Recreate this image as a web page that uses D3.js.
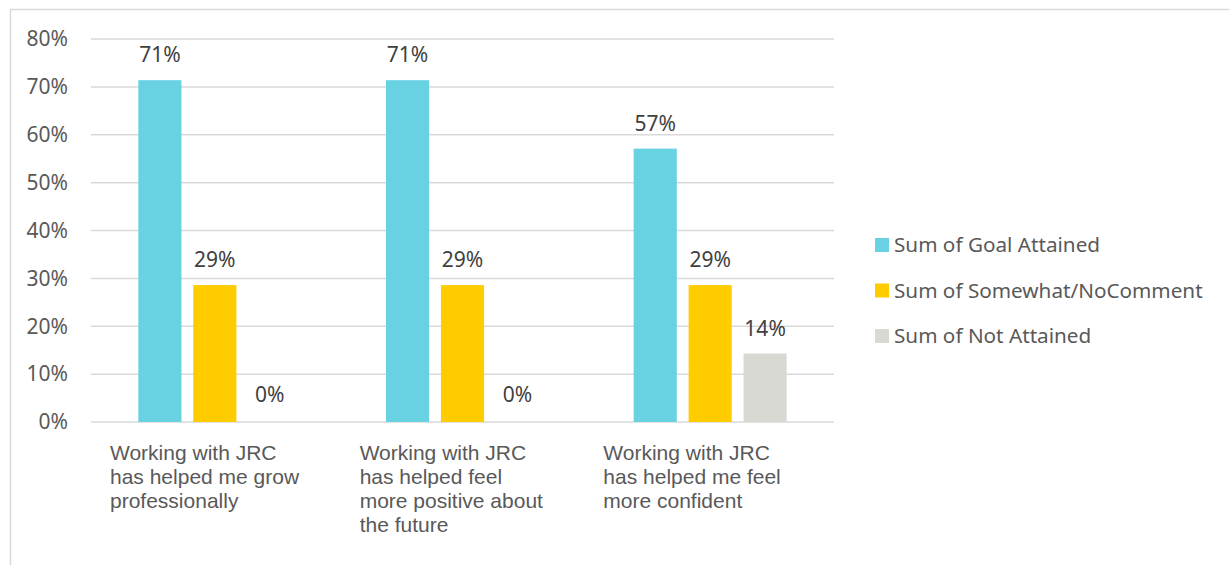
<!DOCTYPE html>
<html><head><meta charset="utf-8">
<script src="https://cdn.jsdelivr.net/npm/d3@7"></script>
<style>body{margin:0;background:#fff;} svg{display:block;}</style>
</head><body>
<svg id="chart" width="1229" height="565"></svg>
<script>
const categories = [
  ["Working with JRC", "has helped me grow", "professionally"],
  ["Working with JRC", "has helped feel", "more positive about", "the future"],
  ["Working with JRC", "has helped me feel", "more confident"]
];
const seriesNames = ["Sum of Goal Attained", "Sum of Somewhat/NoComment", "Sum of Not Attained"];
const goalAttained = [0.714, 0.714, 0.571];
const somewhatNoComment = [0.286, 0.286, 0.286];
const notAttained = [0, 0, 0.143];
const yTicks = [0, 0.1, 0.2, 0.3, 0.4, 0.5, 0.6, 0.7, 0.8];
const colors = ["#69D2E2", "#FFCC00", "#D9D9D4"];

(function () {
const series = [goalAttained, somewhatNoComment, notAttained];
const svg = d3.select("#chart");
const calibri = "'Noto Sans', 'Open Sans', sans-serif";
const arial = "'Liberation Sans', Arial, sans-serif";

// outer border
svg.append("rect").attr("x", 10.5).attr("y", 9.5).attr("width", 1300).attr("height", 700)
  .attr("fill", "none").attr("stroke", "#d9d9d9").attr("stroke-width", 1.5);

const pl = 91, pr = 834, pt = 39, pb = 422;
const x0 = d3.scaleBand().domain(d3.range(categories.length)).range([pl, pr]).padding(0);
const x1 = d3.scaleBand().domain(d3.range(series.length)).range([-76.5, 76.5]).paddingInner(0.215).paddingOuter(0);
const y = d3.scaleLinear().domain([0, 0.8]).range([pb, pt]);

// gridlines
svg.append("g").selectAll("line").data(yTicks).join("line")
  .attr("x1", pl).attr("x2", pr)
  .attr("y1", d => y(d)).attr("y2", d => y(d))
  .attr("stroke", "#d9d9d9").attr("stroke-width", 1.5);

// y tick labels
svg.append("g").selectAll("text").data(yTicks).join("text")
  .attr("x", 68).attr("y", d => y(d)).attr("dy", "0.35em")
  .attr("text-anchor", "end").attr("font-family", calibri).attr("font-size", 21)
  .attr("fill", "#595959").text(d => d3.format(".0%")(d));

// bars
const groups = svg.append("g").selectAll("g").data(categories).join("g")
  .attr("transform", (d, i) => `translate(${x0(i) + x0.bandwidth() / 2},0)`);
groups.each(function(c, ci) {
  const g = d3.select(this);
  series.forEach((s, si) => {
    const v = s[ci];
    if (v > 0) {
      g.append("rect").attr("x", x1(si)).attr("width", x1.bandwidth())
        .attr("y", y(v)).attr("height", y(0) - y(v)).attr("fill", colors[si]);
    }
    g.append("text").attr("x", x1(si) + x1.bandwidth() / 2).attr("y", y(v) - (v > 0 ? 18 : 20))
      .attr("text-anchor", "middle").attr("font-family", calibri).attr("font-size", 21)
      .attr("fill", "#404040").text(d3.format(".0%")(v));
  });
});

// category labels
const catG = svg.append("g");
const catOffsets = [19, 21, 17];
categories.forEach((lines, i) => {
  const t = catG.append("text").attr("font-family", arial).attr("font-size", 21).attr("fill", "#595959");
  lines.forEach((ln, li) => {
    t.append("tspan").attr("x", x0(i) + catOffsets[i]).attr("y", 460 + li * 24).text(ln);
  });
});

// legend
const leg = svg.append("g");
seriesNames.forEach((name, i) => {
  const cy = 245 + i * 45.5;
  leg.append("rect").attr("x", 875).attr("y", cy - 7).attr("width", 14).attr("height", 14).attr("fill", colors[i]);
  leg.append("text").attr("x", 894).attr("y", cy).attr("dy", "0.35em")
    .attr("font-family", calibri).attr("font-size", 20.7).attr("fill", "#595959").text(name);
});
})();
</script>
</body></html>
